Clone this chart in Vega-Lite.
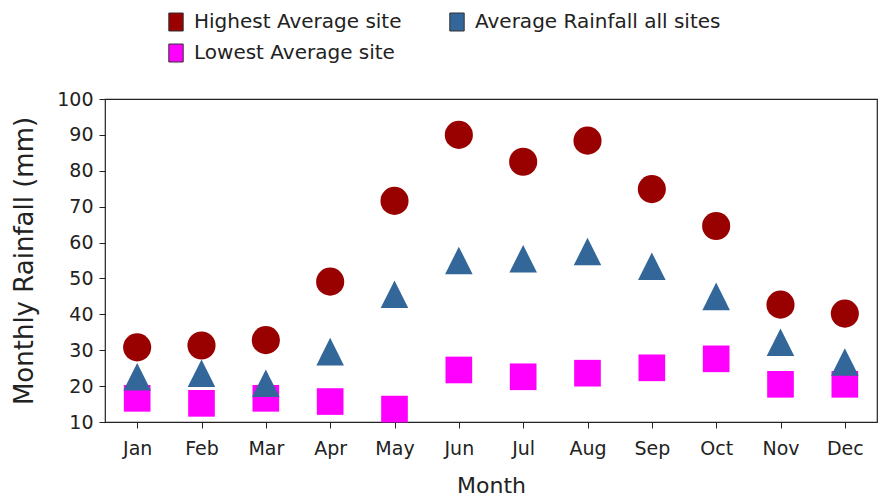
{
  "$schema": "https://vega.github.io/schema/vega-lite/v6.json",
  "autosize": {"type": "none"},
  "width": 772,
  "height": 323,
  "padding": {"left": 105, "top": 99, "right": 3, "bottom": 75},
  "background": "white",
  "config": {
    "font": "DejaVu Sans",
    "view": {"stroke": "#222", "strokeWidth": 1.2},
    "axis": {"labelColor": "#222", "titleColor": "#222", "domainColor": "#222", "tickColor": "#222", "titleFontWeight": "normal", "grid": false}
  },
  "data": {
    "values": [
      {"month": "Jan", "series": "Highest Average site", "value": 30.8},
      {"month": "Feb", "series": "Highest Average site", "value": 31.3},
      {"month": "Mar", "series": "Highest Average site", "value": 32.8},
      {"month": "Apr", "series": "Highest Average site", "value": 49.1},
      {"month": "May", "series": "Highest Average site", "value": 71.6},
      {"month": "Jun", "series": "Highest Average site", "value": 90.0},
      {"month": "Jul", "series": "Highest Average site", "value": 82.5},
      {"month": "Aug", "series": "Highest Average site", "value": 88.4},
      {"month": "Sep", "series": "Highest Average site", "value": 74.9},
      {"month": "Oct", "series": "Highest Average site", "value": 64.6},
      {"month": "Nov", "series": "Highest Average site", "value": 42.7},
      {"month": "Dec", "series": "Highest Average site", "value": 40.2},
      {"month": "Jan", "series": "Average Rainfall all sites", "value": 22.6},
      {"month": "Feb", "series": "Average Rainfall all sites", "value": 23.6},
      {"month": "Mar", "series": "Average Rainfall all sites", "value": 20.8},
      {"month": "Apr", "series": "Average Rainfall all sites", "value": 29.6},
      {"month": "May", "series": "Average Rainfall all sites", "value": 45.6},
      {"month": "Jun", "series": "Average Rainfall all sites", "value": 55.0},
      {"month": "Jul", "series": "Average Rainfall all sites", "value": 55.5},
      {"month": "Aug", "series": "Average Rainfall all sites", "value": 57.5},
      {"month": "Sep", "series": "Average Rainfall all sites", "value": 53.4},
      {"month": "Oct", "series": "Average Rainfall all sites", "value": 45.0},
      {"month": "Nov", "series": "Average Rainfall all sites", "value": 32.2},
      {"month": "Dec", "series": "Average Rainfall all sites", "value": 26.7},
      {"month": "Jan", "series": "Lowest Average site", "value": 16.6},
      {"month": "Feb", "series": "Lowest Average site", "value": 15.2},
      {"month": "Mar", "series": "Lowest Average site", "value": 16.6},
      {"month": "Apr", "series": "Lowest Average site", "value": 15.7},
      {"month": "May", "series": "Lowest Average site", "value": 13.6},
      {"month": "Jun", "series": "Lowest Average site", "value": 24.5},
      {"month": "Jul", "series": "Lowest Average site", "value": 22.6},
      {"month": "Aug", "series": "Lowest Average site", "value": 23.6},
      {"month": "Sep", "series": "Lowest Average site", "value": 25.1},
      {"month": "Oct", "series": "Lowest Average site", "value": 27.6},
      {"month": "Nov", "series": "Lowest Average site", "value": 20.5},
      {"month": "Dec", "series": "Lowest Average site", "value": 20.5}
    ]
  },
  "encoding": {
    "x": {
      "field": "month", "type": "ordinal",
      "sort": ["Jan","Feb","Mar","Apr","May","Jun","Jul","Aug","Sep","Oct","Nov","Dec"],
      "title": "Month",
      "axis": {"labelAngle": 0, "labelFontSize": 19, "titleFontSize": 22, "tickSize": 6, "labelPadding": 11, "titlePadding": 17, "domain": false}
    },
    "y": {
      "field": "value", "type": "quantitative",
      "scale": {"domain": [10, 100], "nice": false, "zero": false},
      "title": "Monthly Rainfall (mm)",
      "axis": {"values": [10,20,30,40,50,60,70,80,90,100], "labelFontSize": 19, "titleFontSize": 26, "tickSize": 6, "labelPadding": 6, "titlePadding": 19, "domain": false}
    },
    "color": {
      "field": "series", "type": "nominal",
      "scale": {"domain": ["Highest Average site", "Average Rainfall all sites", "Lowest Average site"], "range": ["#990000", "#336699", "#FF00FF"]},
      "legend": {
        "title": null, "orient": "none", "legendX": 61, "legendY": -87, "columns": 2, "direction": "horizontal",
        "columnPadding": 45, "rowPadding": 9, "labelFontSize": 20, "labelColor": "#222", "labelLimit": 400,
        "symbolType": "M-0.8,-1H0.8V1H-0.8Z", "symbolSize": 324, "symbolStrokeColor": "#333", "symbolStrokeWidth": 1,
        "symbolOpacity": 1, "symbolFillColor": "#000", "labelOffset": 8
      }
    }
  },
  "layer": [
    {
      "transform": [{"filter": "datum.series === 'Highest Average site'"}],
      "mark": {"type": "point", "filled": true, "opacity": 1, "shape": "circle", "size": 790}
    },
    {
      "transform": [{"filter": "datum.series === 'Lowest Average site'"}],
      "mark": {"type": "point", "filled": true, "opacity": 1, "shape": "square", "size": 711}
    },
    {
      "transform": [{"filter": "datum.series === 'Average Rainfall all sites'"}],
      "mark": {"type": "point", "filled": true, "opacity": 1, "shape": "M0,-1L1,1L-1,1Z", "size": 760}
    }
  ]
}
